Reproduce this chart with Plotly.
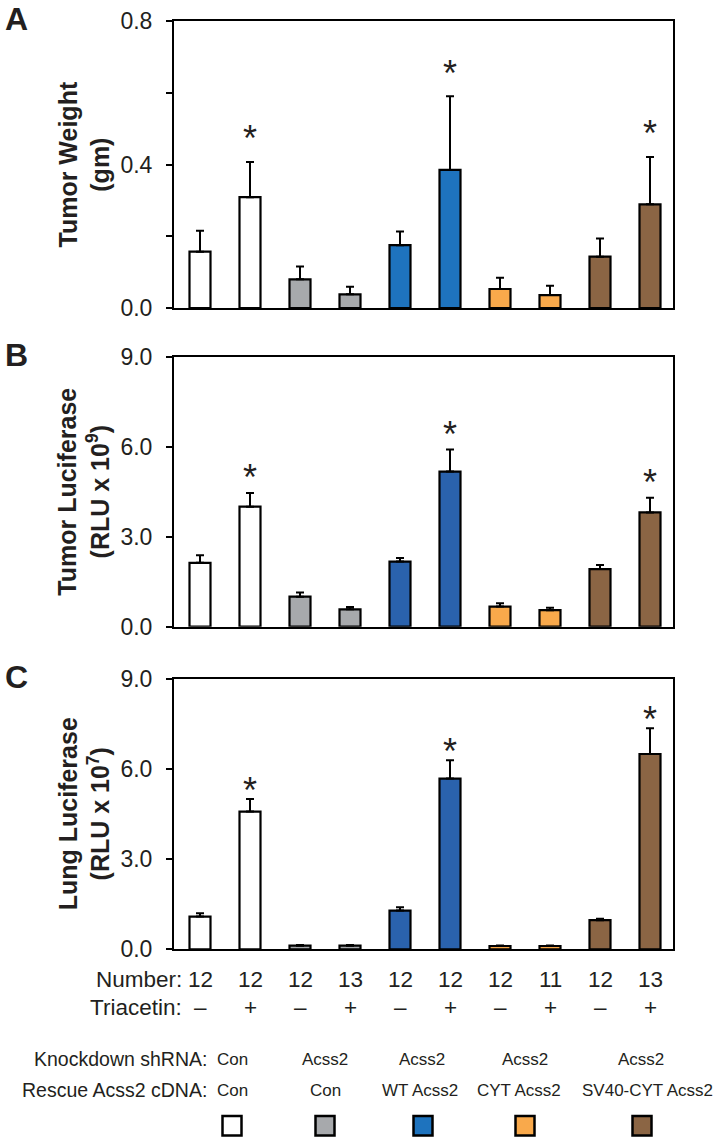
import plotly.graph_objects as go

# ---------------- data ----------------
categories = ["Con/Con -", "Con/Con +", "Acss2/Con -", "Acss2/Con +",
              "Acss2/WT -", "Acss2/WT +", "Acss2/CYT -", "Acss2/CYT +",
              "Acss2/SV40-CYT -", "Acss2/SV40-CYT +"]
numbers = ["12", "12", "12", "13", "12", "12", "12", "11", "12", "13"]
triacetin = ["–", "+", "–", "+", "–", "+", "–", "+", "–", "+"]

tumor_weight = [0.157, 0.309, 0.080, 0.038, 0.175, 0.385, 0.053, 0.036, 0.143, 0.289]
tumor_weight_err = [0.058, 0.098, 0.036, 0.021, 0.038, 0.205, 0.031, 0.026, 0.051, 0.132]
tumor_luc = [2.13, 4.00, 1.00, 0.58, 2.17, 5.17, 0.67, 0.55, 1.92, 3.81]
tumor_luc_err = [0.25, 0.46, 0.14, 0.08, 0.12, 0.74, 0.11, 0.08, 0.14, 0.49]
lung_luc = [1.09, 4.59, 0.12, 0.12, 1.29, 5.69, 0.11, 0.11, 0.97, 6.51]
lung_luc_err = [0.11, 0.42, 0.02, 0.02, 0.11, 0.61, 0.02, 0.02, 0.05, 0.86]
significant = [False, True, False, False, False, True, False, False, False, True]

colors_A = ["#FFFFFF", "#FFFFFF", "#A7A9AC", "#A7A9AC", "#1E73BE", "#1E73BE",
            "#F9A94B", "#F9A94B", "#8B6544", "#8B6544"]
colors_BC = ["#FFFFFF", "#FFFFFF", "#A7A9AC", "#A7A9AC", "#2A62AD", "#2A62AD",
             "#F9A94B", "#F9A94B", "#8B6544", "#8B6544"]

knockdown = ["Con", "Acss2", "Acss2", "Acss2", "Acss2"]
rescue = ["Con", "Con", "WT Acss2", "CYT Acss2", "SV40-CYT Acss2"]
legend_colors = ["#FFFFFF", "#A7A9AC", "#1E73BE", "#F9A94B", "#8B6544"]

# ---------------- layout helpers ----------------
W, H = 716, 1140
FONT = "Liberation Sans, Arial, Helvetica, sans-serif"
TXT = "#231F20"


def px_x(p):
    return p / W


def px_y(p):
    return 1 - p / H


panels = [
    dict(vals=tumor_weight, err=tumor_weight_err, colors=colors_A,
         top=21, bottom=308, rng=[0, 0.8],
         tickvals=[0, 0.4, 0.8], ticktext=["0.0", "0.4", "0.8"], minor=[0.2, 0.6],
         title="<b>Tumor Weight<br>(gm)</b>", letter="A", star_shift=23),
    dict(vals=tumor_luc, err=tumor_luc_err, colors=colors_BC,
         top=356.7, bottom=626.7, rng=[0, 9],
         tickvals=[0, 3, 6, 9], ticktext=["0.0", "3.0", "6.0", "9.0"], minor=None,
         title="<b>Tumor Luciferase<br>(RLU x 10<sup>9</sup>)</b>", letter="B", star_shift=15),
    dict(vals=lung_luc, err=lung_luc_err, colors=colors_BC,
         top=679.3, bottom=949.3, rng=[0, 9],
         tickvals=[0, 3, 6, 9], ticktext=["0.0", "3.0", "6.0", "9.0"], minor=None,
         title="<b>Lung Luciferase<br>(RLU x 10<sup>7</sup>)</b>", letter="C", star_shift=9),
]

fig = go.Figure()
annotations = []
shapes = []
x_left, x_right = 174, 673

for i, p in enumerate(panels):
    n = i + 1
    xa = "x" if n == 1 else f"x{n}"
    ya = "y" if n == 1 else f"y{n}"
    fig.add_trace(go.Bar(
        x=categories, y=p["vals"], xaxis=xa, yaxis=ya,
        width=0.42,
        marker=dict(color=p["colors"], line=dict(color="black", width=2.2)),
        error_y=dict(type="data", array=p["err"], arrayminus=[0] * len(p["err"]),
                     symmetric=False, color="black", thickness=2, width=4),
        showlegend=False, hoverinfo="skip",
    ))
    xkey = "xaxis" if n == 1 else f"xaxis{n}"
    ykey = "yaxis" if n == 1 else f"yaxis{n}"
    yax = dict(domain=[px_y(p["bottom"]), px_y(p["top"])], anchor=xa,
               range=p["rng"], tickmode="array",
               tickvals=p["tickvals"], ticktext=p["ticktext"],
               ticks="outside", ticklen=6, tickwidth=1.5, tickcolor="black",
               ticklabelstandoff=9,
               tickfont=dict(family=FONT, size=23, color=TXT),
               showline=True, linecolor="black", linewidth=2, mirror=True,
               showgrid=False, zeroline=False, fixedrange=True, automargin=False)
    if p["minor"]:
        yax["minor"] = dict(tickmode="array", tickvals=p["minor"], ticks="outside",
                            ticklen=6, tickwidth=1.5, tickcolor="black", showgrid=False)
    fig.update_layout({
        xkey: dict(domain=[px_x(x_left), px_x(x_right)], anchor=ya,
                   type="category", range=[-0.52, 9.46],
                   showline=True, linecolor="black", linewidth=2, mirror=True,
                   showticklabels=False, ticks="", showgrid=False, zeroline=False,
                   fixedrange=True, automargin=False),
        ykey: yax,
    })
    # significance stars
    for c, v, e, s in zip(categories, p["vals"], p["err"], significant):
        if s:
            annotations.append(dict(x=c, y=v + e, xref=xa, yref=ya, text="*",
                                    showarrow=False, yanchor="middle",
                                    yshift=p["star_shift"],
                                    font=dict(family=FONT, size=36, color=TXT)))
    # y title
    annotations.append(dict(x=px_x(84), y=px_y((p["top"] + p["bottom"]) / 2),
                            xref="paper", yref="paper", text=p["title"],
                            textangle=-90, showarrow=False,
                            xanchor="center", yanchor="middle",
                            font=dict(family=FONT, size=25, color=TXT)))
    # panel letter
    annotations.append(dict(x=px_x(3), y=px_y(p["top"] - 2), xref="paper", yref="paper",
                            text=f"<b>{p['letter']}</b>", showarrow=False,
                            xanchor="left", yanchor="middle",
                            font=dict(family=FONT, size=32, color=TXT)))

# bottom rows: Number / Triacetin (aligned to bar categories)
row_font = dict(family=FONT, size=22.5, color=TXT)
annotations.append(dict(x=px_x(184), y=px_y(979), xref="paper", yref="paper",
                        text="Number:", showarrow=False, xanchor="right",
                        yanchor="middle", font=row_font))
annotations.append(dict(x=px_x(184), y=px_y(1007), xref="paper", yref="paper",
                        text="Triacetin:", showarrow=False, xanchor="right",
                        yanchor="middle", font=row_font))
for c, nm, t in zip(categories, numbers, triacetin):
    annotations.append(dict(x=c, y=px_y(979), xref="x3", yref="paper", text=nm,
                            showarrow=False, xanchor="center", yanchor="middle",
                            font=row_font))
    annotations.append(dict(x=c, y=px_y(1007), xref="x3", yref="paper", text=t,
                            showarrow=False, xanchor="center", yanchor="middle",
                            font=row_font))

# group descriptions
grp_font = dict(family=FONT, size=19.5, color=TXT)
col_font = dict(family=FONT, size=17, color=TXT)
annotations.append(dict(x=px_x(209), y=px_y(1059), xref="paper", yref="paper",
                        text="Knockdown shRNA:", showarrow=False, xanchor="right",
                        yanchor="middle", font=grp_font))
annotations.append(dict(x=px_x(209), y=px_y(1090), xref="paper", yref="paper",
                        text="Rescue Acss2 cDNA:", showarrow=False, xanchor="right",
                        yanchor="middle", font=grp_font))
kd_x = [232, 325, 422, 525, 641]
rs_x = [232, 325, 420, 519, 647]
sq_x = [232, 325, 423, 525, 642]
for k, r, col, xk, xr, xs in zip(knockdown, rescue, legend_colors, kd_x, rs_x, sq_x):
    annotations.append(dict(x=px_x(xk), y=px_y(1059), xref="paper", yref="paper",
                            text=k, showarrow=False, xanchor="center",
                            yanchor="middle", font=col_font))
    annotations.append(dict(x=px_x(xr), y=px_y(1090), xref="paper", yref="paper",
                            text=r, showarrow=False, xanchor="center",
                            yanchor="middle", font=col_font))
    shapes.append(dict(type="rect", xref="paper", yref="paper",
                       x0=px_x(xs - 9.5), x1=px_x(xs + 9.5),
                       y0=px_y(1135.5), y1=px_y(1116),
                       fillcolor=col, line=dict(color="black", width=2.5)))

fig.update_layout(
    width=W, height=H,
    margin=dict(l=0, r=0, t=0, b=0, autoexpand=False),
    paper_bgcolor="white", plot_bgcolor="white",
    annotations=annotations, shapes=shapes,
    font=dict(family=FONT, color=TXT),
)

fig.write_html("out.html", config={"displayModeBar": False},
               post_script="document.body.style.margin='0';")
